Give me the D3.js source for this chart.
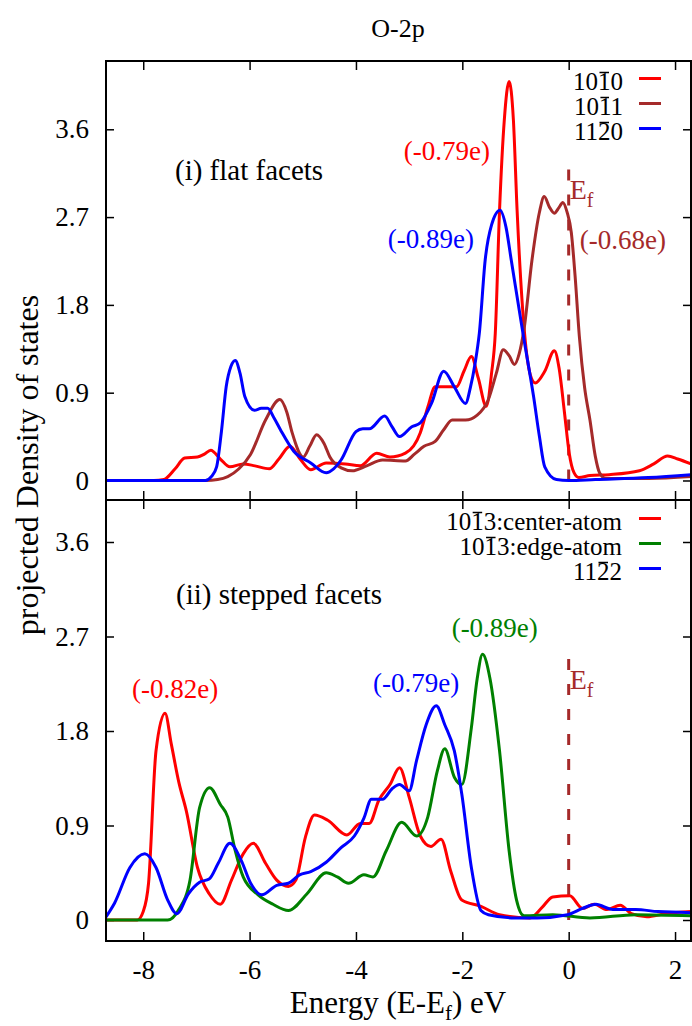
<!DOCTYPE html>
<html><head><meta charset="utf-8">
<script src="https://cdn.jsdelivr.net/npm/d3@7"></script>
<style>body{margin:0;background:#fff}svg{display:block}</style>
</head><body>
<svg id="c" width="692" height="1026" font-family="'Liberation Serif', serif"></svg>
<script>
// ---------------- data ----------------
const xTicks = [-8, -6, -4, -2, 0, 2];
const yTicks = [0, 0.9, 1.8, 2.7, 3.6];

// top panel: flat facets  [energy, pDOS]
const flat1010 = [[-8.7,0],[-7.8,0],[-7.61,0.01],[-7.4,0.12],[-7.22,0.23],[-6.98,0.24],[-6.85,0.27],[-6.73,0.31],[-6.55,0.22],[-6.37,0.14],[-6.12,0.17],[-5.9,0.15],[-5.63,0.12],[-5.45,0.22],[-5.24,0.35],[-5.05,0.22],[-4.85,0.11],[-4.56,0.18],[-4.2,0.17],[-3.92,0.15],[-3.61,0.28],[-3.36,0.24],[-3.07,0.28],[-2.79,0.49],[-2.65,0.75],[-2.51,0.96],[-2.11,0.96],[-1.97,1.12],[-1.83,1.27],[-1.7,1.05],[-1.55,0.76],[-1.45,1.1],[-1.38,1.51],[-1.30,2.77],[-1.21,3.7],[-1.12,4.09],[-1.04,3.7],[-0.97,2.77],[-0.83,1.51],[-0.72,1.08],[-0.63,1.0],[-0.45,1.12],[-0.27,1.33],[-0.18,1.15],[-0.08,0.7],[0.01,0.28],[0.1,0.08],[0.19,0.03],[0.4,0.05],[0.76,0.06],[1.33,0.1],[1.6,0.17],[1.86,0.25],[2.05,0.22],[2.3,0.17]];
const flat1011 = [[-8.7,0],[-6.83,0],[-6.6,0.01],[-6.41,0.04],[-6.2,0.12],[-5.98,0.27],[-5.7,0.62],[-5.43,0.83],[-5.3,0.7],[-5.2,0.49],[-4.99,0.24],[-4.87,0.35],[-4.74,0.47],[-4.6,0.38],[-4.49,0.24],[-4.28,0.13],[-4.07,0.10],[-3.8,0.15],[-3.5,0.21],[-3.07,0.20],[-2.9,0.27],[-2.72,0.35],[-2.51,0.40],[-2.35,0.52],[-2.19,0.62],[-1.94,0.62],[-1.72,0.67],[-1.51,0.83],[-1.36,1.1],[-1.23,1.34],[-1.12,1.28],[-1.02,1.19],[-0.93,1.3],[-0.84,1.55],[-0.69,2.26],[-0.55,2.75],[-0.46,2.91],[-0.36,2.80],[-0.27,2.74],[-0.18,2.80],[-0.11,2.85],[-0.03,2.75],[0.05,2.54],[0.12,2.1],[0.20,1.48],[0.30,0.95],[0.40,0.62],[0.50,0.25],[0.58,0.08],[0.7,0.02],[1.5,0.02],[2.3,0.04]];
const flat1120 = [[-8.7,0],[-6.83,0],[-6.72,0.04],[-6.62,0.14],[-6.53,0.5],[-6.44,0.96],[-6.35,1.17],[-6.27,1.23],[-6.18,1.1],[-6.09,0.86],[-5.91,0.72],[-5.78,0.74],[-5.66,0.74],[-5.54,0.64],[-5.42,0.52],[-5.17,0.30],[-4.85,0.18],[-4.56,0.08],[-4.42,0.12],[-4.28,0.21],[-4.0,0.50],[-3.87,0.53],[-3.75,0.53],[-3.46,0.66],[-3.32,0.55],[-3.18,0.45],[-2.95,0.55],[-2.79,0.59],[-2.58,0.79],[-2.35,1.12],[-2.15,0.96],[-1.94,0.79],[-1.85,0.95],[-1.76,1.20],[-1.68,1.51],[-1.57,2.26],[-1.45,2.62],[-1.29,2.77],[-1.18,2.6],[-1.08,2.26],[-0.86,1.51],[-0.66,0.86],[-0.55,0.45],[-0.45,0.14],[-0.23,0.01],[0,0],[0.5,0.01],[1.5,0.03],[2.3,0.06]];

// bottom panel: stepped facets
const stepCenter = [[-8.7,0],[-8.11,0],[-8.0,0.08],[-7.9,0.35],[-7.76,1.61],[-7.59,1.97],[-7.47,1.67],[-7.33,1.31],[-7.19,1.04],[-6.98,0.50],[-6.76,0.25],[-6.55,0.15],[-6.34,0.38],[-6.12,0.63],[-5.93,0.73],[-5.70,0.54],[-5.49,0.38],[-5.27,0.32],[-5.13,0.38],[-4.95,0.79],[-4.78,1.00],[-4.53,0.95],[-4.17,0.81],[-3.92,0.92],[-3.75,0.92],[-3.57,1.14],[-3.36,1.29],[-3.18,1.45],[-3.00,1.17],[-2.79,0.80],[-2.59,0.70],[-2.40,0.77],[-2.22,0.47],[-2.01,0.19],[-1.65,0.13],[-1.30,0.05],[-0.73,0.02],[-0.5,0.12],[-0.30,0.22],[0.02,0.23],[0.26,0.11],[0.48,0.15],[0.72,0.10],[0.97,0.14],[1.18,0.06],[1.47,0.03],[1.82,0.06],[2.3,0.08]];
const stepEdge = [[-8.7,0],[-7.54,0],[-7.33,0.10],[-7.12,0.38],[-6.94,1.07],[-6.75,1.26],[-6.55,1.10],[-6.41,0.98],[-6.27,0.66],[-6.12,0.41],[-5.84,0.24],[-5.56,0.15],[-5.27,0.09],[-4.92,0.25],[-4.56,0.45],[-4.35,0.41],[-4.14,0.35],[-3.85,0.43],[-3.68,0.41],[-3.43,0.66],[-3.14,0.93],[-2.86,0.80],[-2.65,0.98],[-2.47,1.42],[-2.33,1.63],[-2.15,1.36],[-2.01,1.29],[-1.83,1.83],[-1.72,2.30],[-1.62,2.53],[-1.48,2.30],[-1.30,1.61],[-1.12,0.66],[-0.98,0.19],[-0.84,0.04],[-0.30,0.05],[0.40,0.02],[1.26,0.05],[2.3,0.04]];
const step1122 = [[-8.7,0.03],[-8.54,0.16],[-8.25,0.50],[-7.97,0.63],[-7.76,0.50],[-7.54,0.19],[-7.37,0.06],[-7.15,0.25],[-6.94,0.36],[-6.76,0.39],[-6.59,0.54],[-6.37,0.73],[-6.16,0.57],[-5.98,0.35],[-5.77,0.24],[-5.49,0.33],[-5.27,0.35],[-5.06,0.43],[-4.85,0.46],[-4.56,0.55],[-4.28,0.69],[-4.03,0.80],[-3.85,0.97],[-3.71,1.15],[-3.50,1.15],[-3.32,1.25],[-3.18,1.29],[-3.00,1.23],[-2.86,1.52],[-2.68,1.86],[-2.49,2.04],[-2.33,1.86],[-2.15,1.61],[-2.01,1.20],[-1.83,0.50],[-1.65,0.09],[-1.51,0.05],[-1.02,0.02],[-0.59,0.02],[-0.02,0.05],[0.26,0.11],[0.51,0.15],[0.83,0.10],[1.26,0.10],[1.68,0.08],[2.3,0.07]];

const topSeries = [
  {label:"1010", bar:2, color:"#ff0000", data:flat1010},
  {label:"1011", bar:2, color:"#a52a2a", data:flat1011},
  {label:"1120", bar:2, color:"#0000ff", data:flat1120}
];
const botSeries = [
  {label:"1013:center-atom", bar:2, color:"#ff0000", data:stepCenter},
  {label:"1013:edge-atom", bar:2, color:"#008000", data:stepEdge},
  {label:"1122", bar:2, color:"#0000ff", data:step1122}
];
const topNotes = [
  {text:"(-0.79e)", x:-2.29, y:3.285, color:"#ff0000"},
  {text:"(-0.89e)", x:-2.59, y:2.383, color:"#0000ff"},
  {text:"(-0.68e)", x:1.02, y:2.373, color:"#a52a2a"}
];
const botNotes = [
  {text:"(-0.82e)", x:-7.40, y:2.114, color:"#ff0000"},
  {text:"(-0.79e)", x:-2.87, y:2.171, color:"#0000ff"},
  {text:"(-0.89e)", x:-1.39, y:2.695, color:"#008000"}
];
const efTop = 3.2, efBot = 2.5;

// ---------------- drawing ----------------
const FONT = "'Liberation Serif', 'Times New Roman', serif";
const svg = d3.select("#c");
const L = 106, R = 691;
const x = d3.scaleLinear().domain([-8.7, 2.3]).range([L, R]);
const hyph = v => String(v).replace("\u2212", "-");
const panels = [
  {y: d3.scaleLinear().domain([-0.2, 4.3]).range([500, 61]), top:61, bot:500, series:topSeries, notes:topNotes, ef:efTop,
   title:"(i) flat facets", tx:175, ty:180, legX:623, legY:90},
  {y: d3.scaleLinear().domain([-0.2, 4.0]).range([941, 500]), top:500, bot:941, series:botSeries, notes:botNotes, ef:efBot,
   title:"(ii) stepped facets", tx:176, ty:604, legX:622, legY:530}
];

const txt = sel => sel.attr("font-family", FONT).style("font-family", FONT);

svg.append("text").attr("x", 398).attr("y", 37).attr("text-anchor","middle")
  .call(txt).style("font-size","26px").text("O-2p");

panels.forEach((p, pi) => {
  const g = svg.append("g");
  const clipId = "clip" + pi;
  svg.append("clipPath").attr("id", clipId).append("rect")
    .attr("x", L).attr("y", p.top).attr("width", R - L).attr("height", p.bot - p.top);

  // axes (inward ticks on all four sides)
  const styleAxis = sel => {
    sel.attr("font-family", FONT);
    sel.select(".domain").remove();
    sel.selectAll("line").attr("stroke","#000").attr("stroke-width",1.5);
    sel.selectAll("text").call(txt).style("font-size","27px").attr("fill","#000");
  };
  g.append("g").attr("transform",`translate(${L},0)`)
    .call(d3.axisLeft(p.y).tickValues(yTicks).tickSize(-8).tickPadding(17).tickFormat(d => d === 0 ? "0" : d.toFixed(1)))
    .call(styleAxis);
  g.append("g").attr("transform",`translate(${R},0)`)
    .call(d3.axisRight(p.y).tickValues(yTicks).tickSize(-8).tickFormat(""))
    .call(styleAxis);
  g.append("g").attr("transform",`translate(0,${p.top})`)
    .call(d3.axisTop(x).tickValues(xTicks).tickSize(-9).tickFormat(""))
    .call(styleAxis);
  g.append("g").attr("transform",`translate(0,${p.bot})`)
    .call(d3.axisBottom(x).tickValues(xTicks).tickSize(-9).tickPadding(19).tickFormat(pi === 1 ? (d => hyph(d)) : ""))
    .call(styleAxis);

  // Fermi level dashed line and label
  g.append("line").attr("x1", x(0)).attr("x2", x(0)).attr("y1", p.y(0)).attr("y2", p.y(p.ef))
    .attr("stroke","#a52a2a").attr("stroke-width",3).attr("stroke-dasharray","11,14");
  const ef = g.append("text").attr("x", x(0) + 1).attr("y", p.y(p.ef) + 31)
    .call(txt).style("font-size","28px").attr("fill","#a52a2a");
  ef.append("tspan").text("E");
  ef.append("tspan").attr("dy", 8).style("font-size","20px").text("f");

  // curves
  const line = d3.line().x(d => x(d[0])).y(d => p.y(d[1])).curve(d3.curveMonotoneX);
  const cg = g.append("g").attr("clip-path", `url(#${clipId})`);
  p.series.forEach(s => {
    cg.append("path").datum(s.data).attr("d", line).attr("fill","none")
      .attr("stroke", s.color).attr("stroke-width", 3).attr("stroke-linejoin","round");
  });

  // frame
  g.append("rect").attr("x", L).attr("y", p.top).attr("width", R - L).attr("height", p.bot - p.top)
    .attr("fill","none").attr("stroke","#000").attr("stroke-width",2);

  // panel title
  g.append("text").attr("x", p.tx).attr("y", p.ty).call(txt).style("font-size","29px").text(p.title);

  // charge notes
  p.notes.forEach(n => {
    g.append("text").attr("x", x(n.x)).attr("y", p.y(n.y)).attr("text-anchor","middle")
      .call(txt).style("font-size","27px").attr("fill", n.color).text(n.text);
  });

  // legend
  p.series.forEach((s, i) => {
    const by = p.legY + i * 25;
    const t = g.append("text").attr("x", p.legX).attr("y", by).attr("text-anchor","end")
      .call(txt).style("font-size","25px").attr("fill","#000").text(s.label);
    const ext = t.node().getExtentOfChar(s.bar);
    g.append("line").attr("x1", ext.x + 1.5).attr("x2", ext.x + ext.width - 1.5)
      .attr("y1", by - 17.5).attr("y2", by - 17.5).attr("stroke","#000").attr("stroke-width",1.5);
    g.append("line").attr("x1", 639).attr("x2", 661).attr("y1", by - 11.5).attr("y2", by - 11.5)
      .attr("stroke", s.color).attr("stroke-width", 3);
  });
});

// axis labels
svg.append("text").attr("x", 398).attr("y", 1013).attr("text-anchor","middle")
  .call(txt).style("font-size","31px")
  .call(t => { t.append("tspan").text("Energy (E-E");
               t.append("tspan").attr("dy", 7).style("font-size","21px").text("f");
               t.append("tspan").attr("dy", -7).text(") eV"); });
svg.append("text").attr("transform","translate(38,465) rotate(-90)").attr("text-anchor","middle")
  .call(txt).style("font-size","32px").text("projected Density of states");
</script>
</body></html>
